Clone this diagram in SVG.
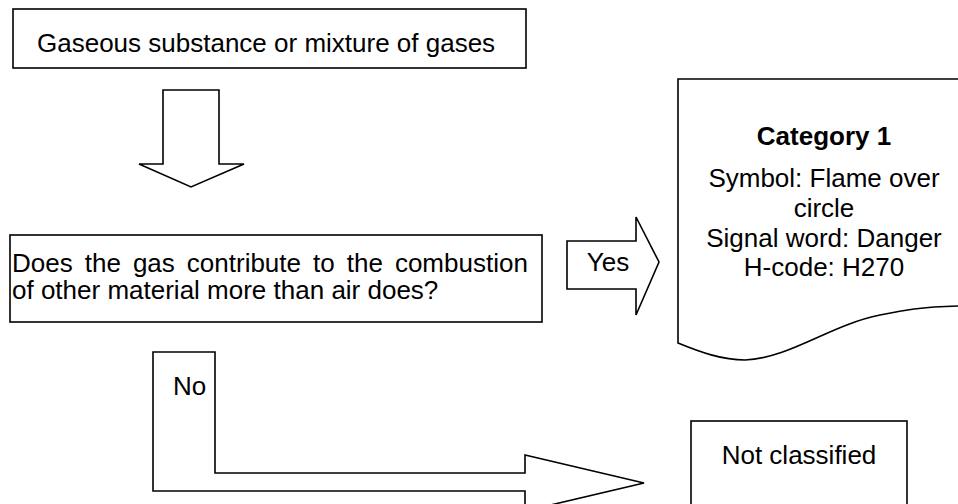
<svg xmlns="http://www.w3.org/2000/svg" width="958" height="504" viewBox="0 0 958 504">
<style>
.s{fill:#fff;stroke:#000;stroke-width:1.6;stroke-linejoin:miter}
text{font-family:"Liberation Sans",Arial,sans-serif;font-size:26px;fill:#000}
.b{font-weight:bold}
.m{text-anchor:middle}
</style>
<rect width="958" height="504" fill="#fff"/>
<g id="start">
<rect class="s" x="13" y="9" width="513" height="59"/>
<text x="37" y="52">Gaseous substance or mixture of gases</text>
</g>
<g id="question">
<rect class="s" x="10" y="235" width="532" height="87"/>
<text x="12" y="272" word-spacing="4.8">Does the gas contribute to the combustion</text>
<text x="12" y="299">of other material more than air does?</text>
</g>
<g id="category1">
<path class="s" d="M678,79 L980,79 L980,306 L958,306 C920,307 905,310 880,315 C830,325 790,358 745,360 C722,360 700,352 678,343 Z"/>
<text class="b m" x="824" y="145">Category 1</text>
<text class="m" x="824" y="187">Symbol: Flame over</text>
<text class="m" x="824" y="217">circle</text>
<text class="m" x="824" y="247">Signal word: Danger</text>
<text class="m" x="824" y="276">H-code: H270</text>
</g>
<g id="notclassified">
<rect class="s" x="691" y="421" width="216" height="100"/>
<text class="m" x="799" y="464">Not classified</text>
</g>
<g id="connectors">
<path id="arrow-down" class="s" d="M163,90 H219 V164 H244 L191,187 L139,164 H163 Z"/>
<g id="arrow-yes">
<path class="s" d="M567,241 H636 V217 L659,262 L636,315 V289 H567 Z"/>
<text class="m" x="608" y="271">Yes</text>
</g>
<g id="arrow-no">
<path class="s" d="M153,352 H215 V473 H525 V455 L644,483 L525,511 V491 H153 Z"/>
<text x="173" y="395">No</text>
</g>
</g>
</svg>
